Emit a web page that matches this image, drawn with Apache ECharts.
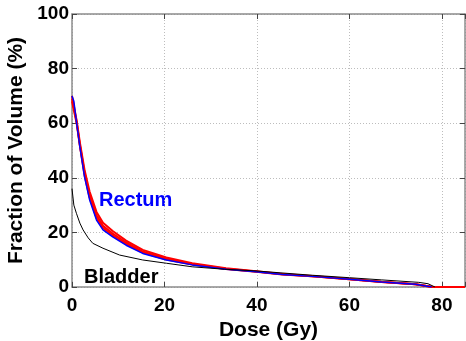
<!DOCTYPE html>
<html>
<head>
<meta charset="utf-8">
<script src="https://cdn.jsdelivr.net/npm/echarts@6/dist/echarts.min.js"></script>
<style>
  html, body { margin: 0; padding: 0; background: #fff; }
  #chart { width: 466px; height: 341px; }
</style>
</head>
<body>
<div id="chart"></div>
<script>
// Dose-volume histograms: [dose (Gy), fraction of volume (%)]
const xTicks = [0, 20, 40, 60, 80];
const yTicks = [0, 20, 40, 60, 80, 100];

const rectumRedA = [[0,70],[1,61],[1.7,53],[2.7,43],[3.8,35],[5.3,27.5],[6.7,23.5],[8.8,20.5],[11.7,17],[15.3,13.6],[20.4,10.8],[26,8.7],[33.3,6.9],[39.8,5.8],[45.5,4.8],[52.7,3.9],[60,2.9],[67,1.9],[74.3,1.0],[78,0],[85,0]];
const rectumRedB = [[0,69],[1,60.5],[1.7,52],[2.7,42],[3.8,33.8],[5.3,26.3],[6.7,22.4],[8.8,19.6],[11.7,16.3],[15.3,13.0],[20.4,10.4],[26,8.4],[33.3,6.7],[39.8,5.7],[45.5,4.7],[52.7,3.85],[60,2.85],[67,1.85],[74.3,1.0],[78,0],[85,0]];
const rectumRedC = [[0,68],[1,60],[1.7,51.8],[2.7,41],[3.8,32.8],[5.3,25.3],[6.7,21.6],[8.8,18.9],[11.7,15.7],[15.3,12.6],[20.4,10.1],[26,8.2],[33.3,6.6],[39.8,5.6],[45.5,4.6],[52.7,3.8],[60,2.8],[67,1.8],[74.3,1.0],[78,0],[85,0]];
const rectumBlue = [[0,70],[0.4,68],[1,60],[1.7,51.4],[2.7,40.4],[3.8,32],[5.3,24.5],[6.7,20.9],[8.8,18.4],[11.7,15.3],[15.3,12.3],[20.4,9.9],[26,8.1],[33.3,6.5],[39.8,5.6],[45.5,4.6],[52.7,3.8],[60,2.8],[67,1.8],[74.3,1.0],[77.8,0]];
const bladder = [[0,36],[0.2,35.5],[0.4,30],[0.95,27],[1.7,23.4],[2.4,20.9],[3.5,18],[4.5,16],[6.7,14.2],[10.3,11.7],[15.3,9.9],[20.4,8.7],[26,7.4],[33,6.5],[39.8,5.9],[45,5.2],[52,4.3],[60,3.4],[67,2.6],[75,1.7],[77,1.2],[78.5,0]];

const FONT = '"Liberation Sans", Arial, Helvetica, sans-serif';
const axisColor = '#8c8c8c';
const gridLine = { show: true, lineStyle: { type: [1, 2], color: '#bdbdbd', width: 1 } };

function line(data, color, width) {
  return {
    type: 'line', data: data, showSymbol: false, symbol: 'none',
    lineStyle: { color: color, width: width }, animation: false, silent: true
  };
}

const chart = echarts.init(document.getElementById('chart'), null, { renderer: 'canvas' });
chart.setOption({
  animation: false,
  grid: { left: 72, right: 1, top: 14, bottom: 54, containLabel: false, outerBoundsMode: 'none' },
  xAxis: [{
    type: 'value', min: 0, max: 85, interval: 20,
    name: 'Dose (Gy)', nameLocation: 'middle', nameGap: 27,
    nameTextStyle: { fontFamily: FONT, fontWeight: 'bold', fontSize: 21, color: '#000', letterSpacing: 0.6 },
    axisLine: { show: true, lineStyle: { color: axisColor, width: 1.5 } },
    axisTick: { show: true, inside: true, length: 5, lineStyle: { color: '#444' } },
    axisLabel: { fontFamily: FONT, fontWeight: 'bold', fontSize: 19, color: '#000', margin: 9,
                 formatter: v => xTicks.includes(v) ? String(v) : '' },
    splitLine: gridLine
  }, {
    type: 'value', min: 0, max: 85, interval: 20, position: 'top',
    axisLine: { show: true, onZero: false, lineStyle: { color: axisColor, width: 1.5 } },
    axisTick: { show: true, inside: true, length: 5, lineStyle: { color: '#444' } },
    axisLabel: { show: false }, splitLine: { show: false }
  }],
  yAxis: [{
    type: 'value', min: 0, max: 100, interval: 20,
    name: 'Fraction of Volume (%)', nameLocation: 'middle', nameGap: 38, nameRotate: 90,
    nameTextStyle: { fontFamily: FONT, fontWeight: 'bold', fontSize: 21, color: '#000', letterSpacing: 0.3 },
    axisLine: { show: true, lineStyle: { color: axisColor, width: 1.5 } },
    axisTick: { show: true, inside: true, length: 5, lineStyle: { color: '#444' } },
    axisLabel: { fontFamily: FONT, fontWeight: 'bold', fontSize: 19, color: '#000', margin: 3,
                 formatter: v => yTicks.includes(v) ? String(v) : '' },
    splitLine: gridLine
  }, {
    type: 'value', min: 0, max: 100, interval: 20, position: 'right',
    axisLine: { show: true, onZero: false, lineStyle: { color: axisColor, width: 1.5 } },
    axisTick: { show: true, inside: true, length: 5, lineStyle: { color: '#444' } },
    axisLabel: { show: false }, splitLine: { show: false }
  }],
  series: [
    line(rectumRedA, '#ff0000', 2),
    line(rectumRedB, '#ff0000', 2),
    line(rectumRedC, '#ff0000', 2),
    line(rectumBlue, '#0000ff', 1.5),
    line(bladder, '#000000', 1)
  ],
  graphic: [
    { type: 'text', left: 99, top: 190,
      style: { text: 'Rectum', fill: '#0000ff', font: 'bold 20px ' + FONT } },
    { type: 'text', left: 84, top: 267,
      style: { text: 'Bladder', fill: '#000000', font: 'bold 20px ' + FONT } }
  ]
});
</script>
</body>
</html>
